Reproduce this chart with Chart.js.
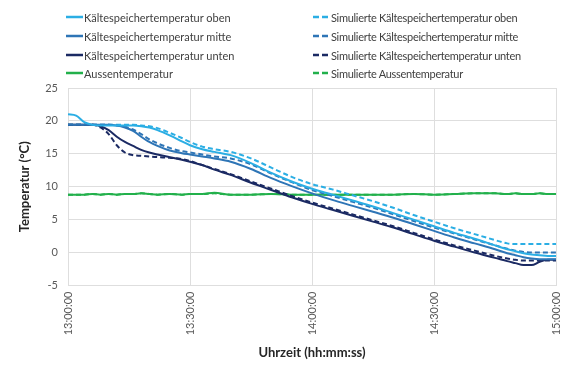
<!DOCTYPE html>
<html>
<head>
<meta charset="utf-8">
<script src="https://cdn.jsdelivr.net/npm/chart.js@4/dist/chart.umd.min.js"></script>
<style>
  html, body { margin: 0; padding: 0; background: #fff; }
  #wrap { position: relative; width: 585px; height: 372px; }
  canvas { position: absolute; left: 0; top: 0; }
  .lg { position: absolute; font-family: Lato, "Open Sans", sans-serif; font-size: 11px; color: #404040; white-space: nowrap; display: flex; align-items: center; height: 14px; }
  .lg.r { letter-spacing: -0.3px; }
  .lg svg { margin-right: 1px; }
</style>
</head>
<body>
<div id="wrap">
  <canvas id="c" width="585" height="372"></canvas>
  <div id="legend"></div>
</div>
<script>
// Minutes after 13:00:00
const minutes = [0,2,4,6,8,10,12,14,16,18,20,22,25,28,30,33,36,40,45,50,55,60,65,70,75,80,85,90,95,100,105,108,110,112,114,116,118,120];

const oben      = [21.0,20.8,19.8,19.4,19.3,19.3,19.3,19.3,19.3,19.2,19.0,18.6,17.8,16.9,16.3,15.7,15.3,14.8,13.6,12.1,10.8,9.7,8.8,7.9,7.0,6.0,5.0,4.0,3.0,2.1,1.1,0.5,0.2,-0.1,-0.3,-0.4,-0.5,-0.5];
const mitte     = [19.4,19.4,19.4,19.4,19.4,19.4,19.3,19.0,18.5,17.6,16.8,16.2,15.5,15.1,14.9,14.6,14.3,13.8,12.7,11.3,10.1,9.0,8.0,7.1,6.2,5.3,4.3,3.3,2.3,1.4,0.5,-0.1,-0.4,-0.7,-0.9,-1.0,-1.0,-1.0];
const unten     = [19.4,19.4,19.4,19.4,19.2,18.6,17.6,16.8,16.2,15.6,15.2,14.9,14.5,14.1,13.8,13.3,12.6,11.8,10.6,9.5,8.4,7.4,6.5,5.6,4.7,3.8,2.8,1.8,0.9,0.0,-0.8,-1.3,-1.6,-1.9,-1.9,-1.4,-1.1,-1.1];
const aussen    = [8.8,8.8,8.8,8.9,8.8,8.9,8.8,8.9,8.9,9.0,8.9,8.8,8.9,8.8,8.9,8.9,9.1,8.8,8.8,8.9,8.8,8.8,8.8,8.8,8.8,8.8,8.9,8.8,8.9,9.0,9.0,8.9,9.0,8.9,8.9,9.0,8.9,8.9];
const simOben   = [19.4,19.4,19.4,19.4,19.4,19.4,19.4,19.4,19.4,19.3,19.2,18.9,18.2,17.4,16.8,16.1,15.7,15.3,14.3,12.9,11.5,10.4,9.6,8.7,7.8,6.8,5.7,4.7,3.7,2.8,1.9,1.4,1.3,1.3,1.3,1.3,1.3,1.3];
const simMitte  = [19.4,19.4,19.4,19.4,19.4,19.4,19.3,19.1,18.7,18.0,17.2,16.6,15.9,15.4,15.2,14.9,14.6,14.3,13.4,12.0,10.7,9.5,8.6,7.7,6.8,5.8,4.8,3.8,2.9,2.0,1.1,0.6,0.3,0.1,0.0,0.0,0.0,0.0];
const simUnten  = [19.4,19.4,19.4,19.4,19.0,18.0,16.3,15.2,14.8,14.7,14.6,14.5,14.4,14.2,13.9,13.3,12.7,11.9,10.8,9.7,8.6,7.6,6.7,5.8,4.9,4.0,3.0,2.0,1.1,0.3,-0.5,-0.9,-1.1,-1.2,-1.2,-1.2,-1.2,-1.2];
const simAussen = [8.8,8.8,8.8,8.9,8.8,8.9,8.8,8.9,8.9,9.0,8.9,8.8,8.9,8.8,8.9,8.9,9.0,8.8,8.8,8.9,8.8,8.8,8.8,8.8,8.8,8.8,8.9,8.8,8.9,9.0,9.0,8.9,9.0,8.9,8.9,9.0,8.9,8.9];

const xTicks = [0,30,60,90,120];
const xTickLabels = ["13:00:00","13:30:00","14:00:00","14:30:00","15:00:00"];
const yTicks = [-5,0,5,10,15,20,25];

const seriesNames = [
  "Kältespeichertemperatur oben","Kältespeichertemperatur mitte","Kältespeichertemperatur unten","Aussentemperatur",
  "Simulierte Kältespeichertemperatur oben","Simulierte Kältespeichertemperatur mitte","Simulierte Kältespeichertemperatur unten","Simulierte Aussentemperatur"
];
const seriesData = [oben, mitte, unten, aussen, simOben, simMitte, simUnten, simAussen];
const colors = ["#2BAEE4","#2E75B6","#1B2A63","#22B04B","#2BAEE4","#2E75B6","#1B2A63","#22B04B"];

const toPts = arr => arr.map((v,i) => ({x: minutes[i], y: v}));

const datasets = seriesNames.map((name, i) => ({
  label: name,
  data: toPts(seriesData[i]),
  borderColor: colors[i],
  backgroundColor: colors[i],
  borderWidth: 2,
  borderDash: i >= 4 ? [5,3] : [],
  pointRadius: 0,
  cubicInterpolationMode: 'monotone',
  fill: false,
  order: i === 3 ? 10 : (i === 7 ? 11 : i)
}));

const font = "Lato, 'Open Sans', sans-serif";

new Chart(document.getElementById('c'), {
  type: 'line',
  data: { datasets },
  options: {
    responsive: false,
    animation: false,
    layout: { padding: { top: 88, right: 29, left: 0, bottom: 0 } },
    plugins: { legend: { display: false }, tooltip: { enabled: false } },
    scales: {
      x: {
        type: 'linear', min: 0, max: 120,
        afterBuildTicks: s => { s.ticks = xTicks.map(v => ({value: v})); },
        afterFit: s => { s.height = 86.5; },
        ticks: {
          minRotation: 90, maxRotation: 90, padding: 6,
          color: '#595959', font: { family: font, size: 11 },
          callback: v => xTickLabels[xTicks.indexOf(v)]
        },
        grid: { color: '#dedede', drawTicks: false, lineWidth: 1 },
        border: { display: false },
        title: { display: true, text: 'Uhrzeit (hh:mm:ss)', color: '#262626',
          font: { family: font, size: 13, weight: 'bold' }, padding: { top: 0, bottom: 11 } }
      },
      y: {
        min: -5, max: 25,
        afterBuildTicks: s => { s.ticks = yTicks.map(v => ({value: v})); },
        afterFit: s => { s.width = 68; },
        ticks: { padding: 10, color: '#595959', font: { family: font, size: 11 } },
        grid: { color: '#dedede', drawTicks: false, lineWidth: 1 },
        border: { display: false },
        title: { display: true, text: 'Temperatur (°C)', color: '#262626',
          font: { family: font, size: 13, weight: 'bold' }, padding: { top: 17, bottom: 0 } }
      }
    }
  }
});

// HTML legend (two columns), built from the same series lists
const legend = document.getElementById('legend');
const rowsY = [10, 29, 48, 66];
seriesNames.forEach((name, i) => {
  const col = i < 4 ? 0 : 1;
  const row = i % 4;
  const d = document.createElement('div');
  d.className = 'lg' + (col === 1 ? ' r' : '');
  d.style.left = (col === 0 ? 66 : 313) + 'px';
  d.style.top = rowsY[row] + 'px';
  const dash = i >= 4 ? 'stroke-dasharray="6,3"' : '';
  d.innerHTML = '<svg width="17" height="4"><line x1="0" y1="2" x2="17" y2="2" stroke="' + colors[i] + '" stroke-width="2.5" ' + dash + '/></svg>';
  const t = document.createElement('span');
  t.textContent = name;
  d.appendChild(t);
  legend.appendChild(d);
});
</script>
</body>
</html>
